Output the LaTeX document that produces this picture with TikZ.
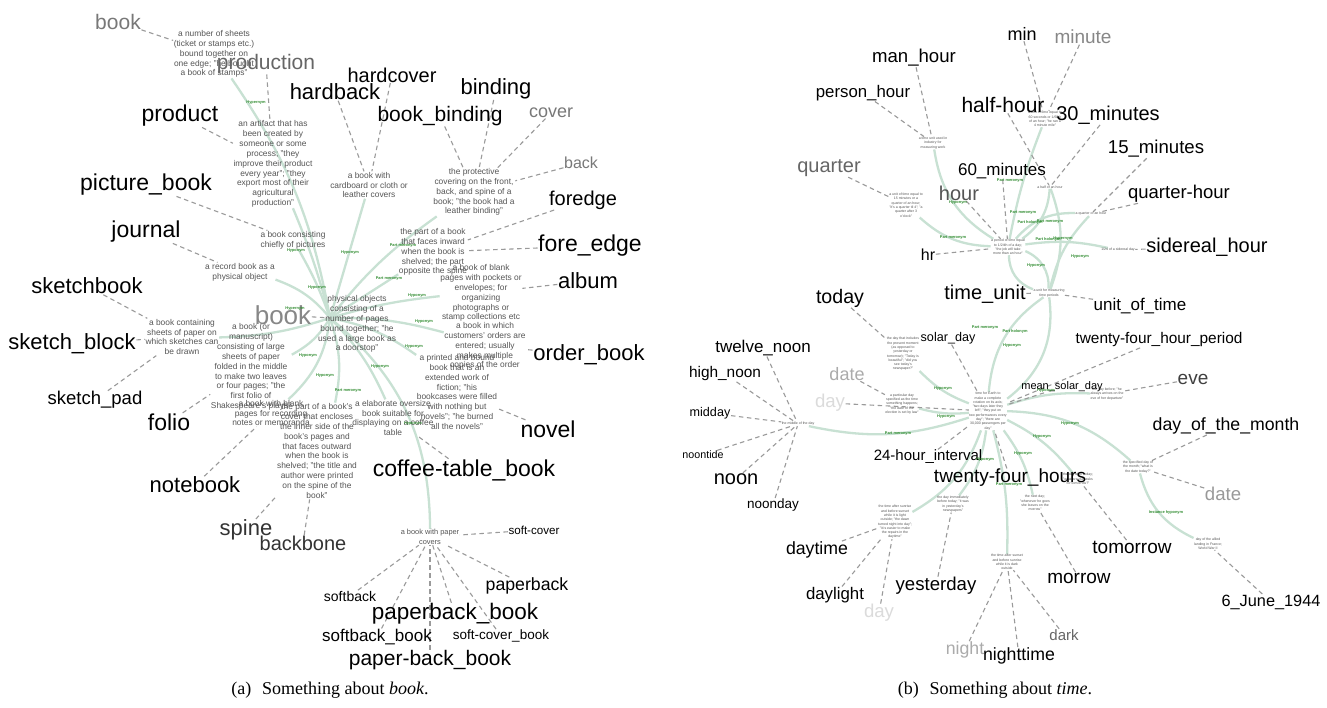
\documentclass[tikz,border=0pt]{standalone}
\usepackage{fontspec}
\setmainfont{Liberation Sans}
\newfontfamily\capfont{Liberation Serif}
\definecolor{defgray}{HTML}{555555}
\definecolor{linkgreen}{HTML}{C8E1D3}
\definecolor{relgreen}{HTML}{2E8B2E}
\definecolor{dashgray}{HTML}{9A9A9A}
\pgfdeclarelayer{bg}
\pgfsetlayers{bg,main}
\begin{document}
\begin{tikzpicture}[x=1pt,y=-1pt,
  wrd/.style={font=\fontsize{#1}{#1}\selectfont, inner sep=0.5pt},
  defn/.style={font=\fontsize{8.4}{9.9}\selectfont, text=defgray, align=center, inner sep=0.5pt},
  defs/.style={font=\fontsize{3.5}{4.3}\selectfont, text=defgray, align=center, inner sep=0.3pt},
  rlab/.style={font=\fontsize{3.9}{4}\selectfont\bfseries, text=relgreen, inner sep=0pt},
  glink/.style={draw=linkgreen, line width=2.3pt},
  dline/.style={draw=dashgray, line width=1.1pt, dash pattern=on 4.5pt off 3.5pt},
  capt/.style={font=\capfont\fontsize{18}{18}\selectfont, inner sep=0pt},
]
\useasboundingbox (0,0) rectangle (1327,707);
%================ LEFT PANEL ================
\coordinate (Lc) at (330,318);
% definitions
\node[defn] (dSheets) at (214,54) {a number of sheets\\(ticket or stamps etc.)\\bound together on\\one edge; "he bought\\a book of stamps"};
\node[defn] (dArtifact) at (273,164) {an artifact that has\\been created by\\someone or some\\process; "they\\improve their product\\every year"; "they\\export most of their\\agricultural\\production"};
\node[defn] (dCard) at (369,185) {a book with\\cardboard or cloth or\\leather covers};
\node[defn] (dProt) at (474,192) {the protective\\covering on the front,\\back, and spine of a\\book; "the book had a\\leather binding"};
\node[defn] (dPicture) at (293,240) {a book consisting\\chiefly of pictures};
\node[defn] (dRecord) at (240,272) {a record book as a\\physical object};
\node[defn] (dInward) at (433,252) {the part of a book\\that faces inward\\when the book is\\shelved; the part\\opposite the spine};
\node[defn] (dAlbum) at (481,293) {a book of blank\\pages with pockets or\\envelopes; for\\organizing\\photographs or\\stamp collections etc};
\node[defn] (dCenter) at (357,324) {physical objects\\consisting of a\\number of pages\\bound together; "he\\used a large book as\\a doorstop"};
\node[defn] (dSketch) at (182,337) {a book containing\\sheets of paper on\\which sketches can\\be drawn};
\node[defn] (dFolio) at (251,367) {a book (or\\manuscript)\\consisting of large\\sheets of paper\\folded in the middle\\to make two leaves\\or four pages; "the\\first folio of\\Shakespeare's plays"};
\node[defn] (dOrder) at (485,346) {a book in which\\customers' orders are\\entered; usually\\makes multiple\\copies of the order};
\node[defn] (dNovel) at (457,392) {a printed and bound\\book that is an\\extended work of\\fiction; "his\\bookcases were filled\\with nothing but\\novels"; "he burned\\all the novels"};
\node[defn] (dNotebook) at (271,413) {a book with blank\\pages for recording\\notes or memoranda};
\node[defn] (dSpine) at (317,451) {the part of a book's\\cover that encloses\\the inner side of the\\book's pages and\\that faces outward\\when the book is\\shelved; "the title and\\author were printed\\on the spine of the\\book"};
\node[defn] (dCoffee) at (393,418) {a elaborate oversize\\book suitable for\\displaying on a coffee\\table};
\node[defn, font=\fontsize{7.4}{9.6}\selectfont] (dPaper) at (430,537) {a book with paper\\covers};
% words
\node[wrd=21, text=black!53] (wBookA) at (118,22) {book};
\node[wrd=21, text=black!60] (wProduction) at (266,64) {production};
\node[wrd=20] (wHardcover) at (392,75) {hardcover};
\node[wrd=22] (wHardback) at (335,92) {hardback};
\node[wrd=22] (wBinding) at (496,89) {binding};
\node[wrd=21] (wBookBinding) at (440,116) {book\_binding};
\node[wrd=18, text=black!53] (wCover) at (551,113) {cover};
\node[wrd=16, text=black!53] (wBack) at (581,163) {back};
\node[wrd=23] (wProduct) at (180,116) {product};
\node[wrd=23] (wPicture) at (146,185) {picture\_book};
\node[wrd=20] (wForedge) at (583,200) {foredge};
\node[wrd=23] (wJournal) at (146,232) {journal};
\node[wrd=23] (wForeEdge) at (590,246) {fore\_edge};
\node[wrd=22] (wAlbum) at (588,281) {album};
\node[wrd=22] (wSketchbook) at (87,286) {sketchbook};
\node[wrd=26, text=black!47] (wBookC) at (283,315) {book};
\node[wrd=22] (wSketchBlock) at (72,344) {sketch\_block};
\node[wrd=22] (wOrderBook) at (589,355) {order\_book};
\node[wrd=18.5] (wSketchPad) at (95,400) {sketch\_pad};
\node[wrd=23] (wFolio) at (169,422) {folio};
\node[wrd=23] (wNovel) at (548,429) {novel};
\node[wrd=23] (wCoffee) at (464,470) {coffee-table\_book};
\node[wrd=22] (wNotebook) at (195,485) {notebook};
\node[wrd=22, text=black!80] (wSpine) at (246,530) {spine};
\node[wrd=20, text=black!80] (wBackbone) at (303,543) {backbone};
\node[wrd=11.6] (wSoftCover) at (534,530) {soft-cover};
\node[wrd=17.7] (wPaperback) at (527,586) {paperback};
\node[wrd=14] (wSoftback) at (350,596) {softback};
\node[wrd=22.5] (wPaperbackBook) at (455,614) {paperback\_book};
\node[wrd=17] (wSoftbackBook) at (377,637) {softback\_book};
\node[wrd=13.5] (wSoftCoverBook) at (501,636) {soft-cover\_book};
\node[wrd=21] (wPaperBackBook) at (430,660) {paper-back\_book};
% relation labels
\node[rlab] (l1) at (256,103) {Hypernym};
\node[rlab] (l2) at (296,251) {Hyponym};
\node[rlab] (l3) at (350,253) {Hyponym};
\node[rlab] (l4) at (403,246) {Part meronym};
\node[rlab] (l5) at (389,279) {Part meronym};
\node[rlab] (l6) at (317,288) {Hyponym};
\node[rlab] (l7) at (417,296) {Hyponym};
\node[rlab] (l8) at (295,309) {Hypernym};
\node[rlab] (l9) at (424,322) {Hyponym};
\node[rlab] (l10) at (414,347) {Hyponym};
\node[rlab] (l11) at (308,356) {Hyponym};
\node[rlab] (l12) at (380,367) {Hyponym};
\node[rlab] (l13) at (325,376) {Hyponym};
\node[rlab] (l14) at (348,391) {Part meronym};
\node[rlab] (l15) at (413,424) {Hyponym};
%================ RIGHT PANEL ================
\node[defs] (dManHour) at (933,143) {a time unit used in\\industry for\\measuring work};
\node[defs] (dQuarter) at (906,205) {a unit of time equal to\\15 minutes or a\\quarter of an hour;\\"it's a quarter til 4"; "a\\quarter after 3\\o'clock"};
\node[defs] (dMinute) at (1045,119) {a unit of time equal to\\60 seconds or 1/60th\\of an hour; "he ran a\\4 minute mile"};
\node[defs] (dHalf) at (1050,187) {a half of an hour};
\node[defs] (dQH) at (1091,214) {a quarter of an hour};
\node[defs] (dHour) at (1008,247) {a period of time equal\\to 1/24th of a day;\\"the job will take\\more than an hour"};
\node[defs] (dSid) at (1118,250) {1/24 of a sidereal day};
\node[defs] (dUnit) at (1049,293) {a unit for measuring\\time periods};
\node[defs] (dToday) at (903,354) {the day that includes\\the present moment\\(as opposed to\\yesterday or\\tomorrow); "Today is\\beautiful"; "did you\\see today's\\newspaper?"};
\node[defs] (dDate) at (902,404) {a particular day\\specified as the time\\something happens;\\"the date of the\\election is set by law"};
\node[defs] (dNoon) at (798,424) {the middle of the day};
\node[defs] (dDay) at (988,411) {time for Earth to\\make a complete\\rotation on its axis;\\"two days later they\\left"; "they put on\\two performances every\\day"; "there are\\30,000 passengers per\\day"};
\node[defs] (dEve) at (1107,394) {the day before; "he\\always arrives on the\\eve of her departure"};
\node[defs] (dDom) at (1138,467) {the specified day of\\the month; "what is\\the date today?"};
\node[defs] (dTom) at (1078,479) {the day after today;\\"what are our tasks\\for tomorrow?"};
\node[defs] (dMorrow) at (1035,503) {the next day;\\"whenever he goes\\she leaves on the\\morrow"};
\node[defs] (dYest) at (953,504) {the day immediately\\before today; "it was\\in yesterday's\\newspapers"};
\node[defs] (dDaytime) at (895,522) {the time after sunrise\\and before sunset\\while it is light\\outside; "the dawn\\turned night into day";\\"it is easier to make\\the repairs in the\\daytime"};
\node[defs] (dNight) at (1007,562) {the time after sunset\\and before sunrise\\while it is dark\\outside};
\node[defs] (dDday) at (1208,544) {day of the allied\\landing in France;\\World War II};
% words
\node[wrd=18] (wMin) at (1022,34) {min};
\node[wrd=19, text=black!47] (wMinute) at (1083,37) {minute};
\node[wrd=18.6] (wManHour) at (914,58) {man\_hour};
\node[wrd=16.8] (wPersonHour) at (863,93) {person\_hour};
\node[wrd=21] (wHalfHour) at (1003,105) {half-hour};
\node[wrd=20] (w30) at (1108,115) {30\_minutes};
\node[wrd=18.6] (w15) at (1156,149) {15\_minutes};
\node[wrd=20, text=black!60] (wQuarter) at (829,168) {quarter};
\node[wrd=17] (w60) at (1002,171) {60\_minutes};
\node[wrd=20, text=black!67] (wHour) at (959,193) {hour};
\node[wrd=18.5] (wQH) at (1179,194) {quarter-hour};
\node[wrd=16] (wHr) at (928,255) {hr};
\node[wrd=20] (wSid) at (1207,247) {sidereal\_hour};
\node[wrd=20] (wTimeUnit) at (985,294) {time\_unit};
\node[wrd=17] (wUnitOfTime) at (1140,306) {unit\_of\_time};
\node[wrd=19.6] (wToday) at (840,298) {today};
\node[wrd=12.6] (wSolarDay) at (948,338) {solar\_day};
\node[wrd=15.4] (w24period) at (1159,340) {twenty-four\_hour\_period};
\node[wrd=17] (wTwelveNoon) at (763,348) {twelve\_noon};
\node[wrd=15.4] (wHighNoon) at (725,374) {high\_noon};
\node[wrd=18, text=black!33] (wDate1) at (847,374) {date};
\node[wrd=11] (wMeanSolar) at (1062,387) {mean\_solar\_day};
\node[wrd=19, text=black!75] (wEve) at (1193,379) {eve};
\node[wrd=18.6, text=black!14] (wDay1) at (830,403) {day};
\node[wrd=12.6] (wMidday) at (710,413) {midday};
\node[wrd=17.7] (wDom) at (1226,426) {day\_of\_the\_month};
\node[wrd=10.7] (wNoontide) at (703,455) {noontide};
\node[wrd=15] (w24interval) at (928,457) {24-hour\_interval};
\node[wrd=20] (wNoon) at (736,479) {noon};
\node[wrd=19] (w24hours) at (1010,478) {twenty-four\_hours};
\node[wrd=18.6, text=black!40] (wDate2) at (1223,494) {date};
\node[wrd=13.5] (wNoonday) at (773,505) {noonday};
\node[wrd=19] (wTomorrow) at (1132,547) {tomorrow};
\node[wrd=17.7] (wDaytime) at (817,550) {daytime};
\node[wrd=16.3] (w6June) at (1271,602) {6\_June\_1944};
\node[wrd=19] (wMorrow) at (1079,578) {morrow};
\node[wrd=16.8] (wDaylight) at (835,595) {daylight};
\node[wrd=18.6] (wYesterday) at (936,586) {yesterday};
\node[wrd=18.6, text=black!14] (wDay2) at (879,613) {day};
\node[wrd=15, text=black!60] (wDark) at (1064,635) {dark};
\node[wrd=17.7, text=black!33] (wNight) at (965,650) {night};
\node[wrd=17.7] (wNighttime) at (1019,656) {nighttime};
% relation labels
\node[rlab] (r1) at (958,203) {Hyponym};
\node[rlab] (r2) at (953,238) {Part meronym};
\node[rlab] (r3) at (1010,181) {Part meronym};
\node[rlab] (r4) at (1023,213) {Part meronym};
\node[rlab] (r5) at (1030,222) {Part holonym};
\node[rlab] (r6) at (1050,222) {Part meronym};
\node[rlab] (r7) at (1048,239) {Part holonym};
\node[rlab] (r8) at (1063,239) {Hypernym};
\node[rlab] (r9) at (1080,257) {Hyponym};
\node[rlab] (r10) at (1036,266) {Hyponym};
\node[rlab] (r11) at (985,328) {Part meronym};
\node[rlab] (r12) at (1015,331) {Part holonym};
\node[rlab] (r13) at (1012,346) {Hyponym};
\node[rlab] (r14) at (943,389) {Hyponym};
\node[rlab] (r15) at (946,417) {Hyponym};
\node[rlab] (r16) at (898,434) {Part meronym};
\node[rlab] (r17) at (1046,391) {Hyponym};
\node[rlab] (r18) at (1070,424) {Hyponym};
\node[rlab] (r19) at (1042,437) {Hyponym};
\node[rlab] (r20) at (1023,454) {Hyponym};
\node[rlab] (r21) at (985,460) {Hyponym};
\node[rlab] (r22) at (1009,485) {Part meronym};
\node[rlab] (r23) at (1166,512) {Instance hyponym};
% captions
\node[capt] (capA) at (330,690) {(a)\hspace{0.6em}Something about \textit{book}.};
\node[capt] (capB) at (995,690) {(b)\hspace{0.6em}Something about \textit{time}.};
%================ BACKGROUND LAYER: links ================
\begin{pgfonlayer}{bg}
\fill[white] (0,0) rectangle (1327,707);
% left green links
\draw[glink] (Lc) to[bend right=12] (dSheets);
\draw[glink] (Lc) to[bend right=4] (dArtifact);
\draw[glink] (Lc) to[bend right=5] (dPicture);
\draw[glink] (Lc) to[bend right=15] (dRecord);
\draw[glink] (Lc) to[bend left=8] (dSketch);
\draw[glink] (Lc) to[bend left=15] (dFolio);
\draw[glink] (Lc) to[bend left=20] (dNotebook);
\draw[glink] (Lc) to[bend left=15] (dSpine);
\draw[glink] (Lc) to[bend left=10] (dCoffee);
\draw[glink] (Lc) to[bend left=25] (dPaper);
\draw[glink] (Lc) to[bend left=12] (dNovel);
\draw[glink] (Lc) to[bend left=8] (dOrder);
\draw[glink] (Lc) to[bend left=5] (dAlbum);
\draw[glink] (Lc) to (dInward);
\draw[glink] (Lc) to[bend left=8] (dProt);
\draw[glink] (Lc) to (dCard);
% right green links
\draw[glink] (dHour) to[bend left=25] (dManHour);
\draw[glink] (dHour) to[bend left=20] (dQuarter);
\draw[glink] (dHour) to[bend left=5] (dMinute);
\draw[glink] (dHour) to[bend right=25] (dHalf);
\draw[glink] (dHour) to[bend left=25] (dQH);
\draw[glink] (dHour) to[bend left=10] (dSid);
\draw[glink] (dUnit) to[bend left=35] (dHour);
\draw[glink] (dUnit) to[bend right=35] (dHour);
\draw[glink] (dUnit) to[bend right=20] (dHalf);
\draw[glink] (dUnit) to[bend left=15] (dQH);
\draw[glink] (dUnit) to[bend left=30] (dDay);
\draw[glink] (dUnit) to[bend right=25] (dDay);
\draw[glink] (dDay) to[bend left=12] (dToday);
\draw[glink] (dDay) to[bend left=10] (dDate);
\draw[glink] (dDay) to[bend left=15] (dNoon);
\draw[glink] (dDay) to[bend left=10] (dEve);
\draw[glink] (dDay) to[bend left=20] (dDom);
\draw[glink] (dDom) to[bend right=25] (dDday);
\draw[glink] (dDay) to[bend left=12] (dTom);
\draw[glink] (dDay) to[bend left=12] (dMorrow);
\draw[glink] (dDay) to[bend left=15] (dYest);
\draw[glink] (dDay) to[bend left=20] (dDaytime);
\draw[glink] (dDay) to[bend left=8] (dNight);
% left dashed links
\draw[dline] (wBookA) -- (dSheets);
\draw[dline] (wProduction) -- (dArtifact);
\draw[dline] (wProduct) -- (dArtifact);
\draw[dline] (wHardback) -- (dCard);
\draw[dline] (wHardcover) -- (dCard);
\draw[dline] (wBookBinding) -- (dProt);
\draw[dline] (wBinding) -- (dProt);
\draw[dline] (wCover) -- (dProt);
\draw[dline] (wBack) -- (dProt);
\draw[dline] (wForedge) -- (dInward);
\draw[dline] (wForeEdge) -- (dInward);
\draw[dline] (wPicture) -- (dPicture);
\draw[dline] (wJournal) -- (dRecord);
\draw[dline] (wAlbum) -- (dAlbum);
\draw[dline] (wSketchbook) -- (dSketch);
\draw[dline] (wSketchBlock) -- (dSketch);
\draw[dline] (wSketchPad) -- (dSketch);
\draw[dline] (wBookC) -- (Lc);
\draw[dline] (wOrderBook) -- (dOrder);
\draw[dline] (wFolio) -- (dFolio);
\draw[dline] (wNovel) -- (dNovel);
\draw[dline] (wCoffee) -- (dCoffee);
\draw[dline] (wNotebook) -- (dNotebook);
\draw[dline] (wSpine) -- (dSpine);
\draw[dline] (wBackbone) -- (dSpine);
\draw[dline] (wSoftCover) -- (dPaper);
\draw[dline] (wPaperback) -- (dPaper);
\draw[dline] (wSoftback) -- (dPaper);
\draw[dline] (wPaperbackBook) -- (dPaper);
\draw[dline] (wSoftbackBook) -- (dPaper);
\draw[dline] (wSoftCoverBook) -- (dPaper);
\draw[dline] (wPaperBackBook) -- (dPaper);
% right dashed links
\draw[dline] (wMin) -- (dMinute);
\draw[dline] (wMinute) -- (dMinute);
\draw[dline] (wManHour) -- (dManHour);
\draw[dline] (wPersonHour) -- (dManHour);
\draw[dline] (wHalfHour) -- (dHalf);
\draw[dline] (w30) -- (dHalf);
\draw[dline] (w15) -- (dQH);
\draw[dline] (wQH) -- (dQH);
\draw[dline] (wQuarter) -- (dQuarter);
\draw[dline] (w60) -- (dHour);
\draw[dline] (wHour) -- (dHour);
\draw[dline] (wHr) -- (dHour);
\draw[dline] (wSid) -- (dSid);
\draw[dline] (wTimeUnit) -- (dUnit);
\draw[dline] (wUnitOfTime) -- (dUnit);
\draw[dline] (wToday) -- (dToday);
\draw[dline] (wSolarDay) -- (dDay);
\draw[dline] (w24period) -- (dDay);
\draw[dline] (wMeanSolar) -- (dDay);
\draw[dline] (wDate1) -- (dDate);
\draw[dline] (wDay1) -- (dDay);
\draw[dline] (wEve) -- (dEve);
\draw[dline] (wDom) -- (dDom);
\draw[dline] (wDate2) -- (dDom);
\draw[dline] (w24interval) -- (dDay);
\draw[dline] (w24hours) -- (dDay);
\draw[dline] (wTwelveNoon) -- (dNoon);
\draw[dline] (wHighNoon) -- (dNoon);
\draw[dline] (wMidday) -- (dNoon);
\draw[dline] (wNoontide) -- (dNoon);
\draw[dline] (wNoon) -- (dNoon);
\draw[dline] (wNoonday) -- (dNoon);
\draw[dline] (wTomorrow) -- (dTom);
\draw[dline] (wMorrow) -- (dMorrow);
\draw[dline] (wYesterday) -- (dYest);
\draw[dline] (wDaytime) -- (dDaytime);
\draw[dline] (wDaylight) -- (dDaytime);
\draw[dline] (wDay2) -- (dDaytime);
\draw[dline] (wNight) -- (dNight);
\draw[dline] (wNighttime) -- (dNight);
\draw[dline] (wDark) -- (dNight);
\draw[dline] (w6June) -- (dDday);
\end{pgfonlayer}
\end{tikzpicture}
\end{document}
